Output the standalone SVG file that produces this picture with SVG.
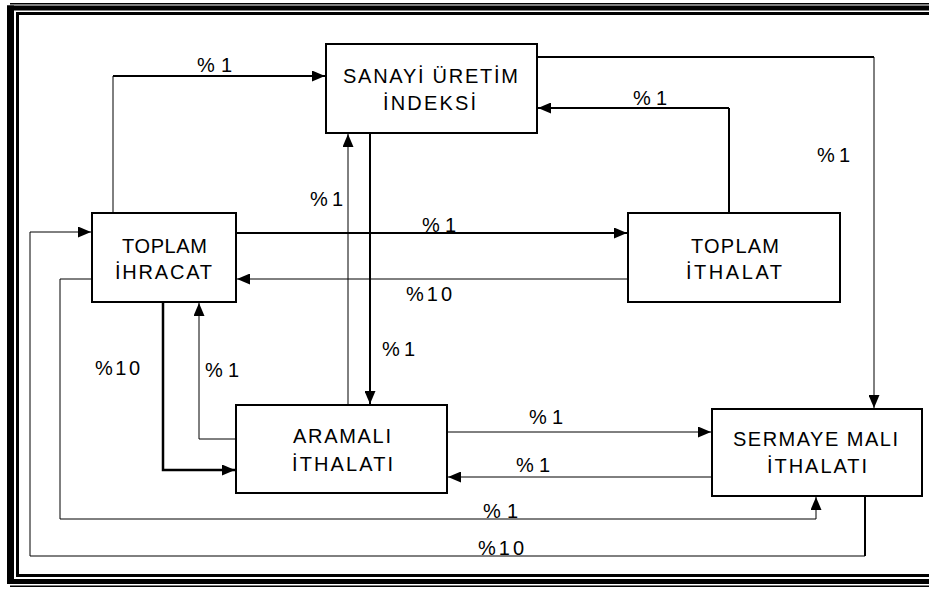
<svg xmlns="http://www.w3.org/2000/svg" width="929" height="589" viewBox="0 0 929 589">
<defs>
<style>
.box{fill:#fff;stroke:#000;stroke-width:2}
.t{font-family:"Liberation Sans",Arial,sans-serif;font-size:20px;fill:#000}
.lbl{font-family:"Liberation Sans",Arial,sans-serif;font-size:20px;fill:#000}
.c1{fill:none;stroke:#000;stroke-width:1}
.c2{fill:none;stroke:#000;stroke-width:2}
.c3{fill:none;stroke:#000;stroke-width:2.5}
.a{marker-end:url(#arr)}
</style>
<marker id="arr" viewBox="0 0 13 11" refX="13" refY="5.5" markerWidth="13" markerHeight="11" markerUnits="userSpaceOnUse" orient="auto">
<path d="M0,0 L13,5.5 L0,11 Z" fill="#000"/>
</marker>
</defs>
<rect width="929" height="589" fill="#fff"/>
<g id="frame" fill="#000">
<rect x="10" y="3" width="919" height="1.5"/>
<rect x="7" y="5.5" width="922" height="5"/>
<rect x="7" y="5.5" width="7" height="578.5"/>
<rect x="7" y="579" width="922" height="5"/>
<rect x="10" y="585.5" width="919" height="1.5"/>
<rect x="16" y="12" width="913" height="3"/>
<rect x="16" y="12" width="3" height="565"/>
<rect x="16" y="574" width="913" height="3"/>
</g>
<g id="connectors">
<path class="c1" d="M113,212 V76"/>
<path class="c2 a" d="M113,76 H325"/>
<path class="c2" d="M538,57 H874"/>
<path class="c1 a" d="M874,57 V408"/>
<path class="c2" d="M729,212 V108"/>
<path class="c2 a" d="M729,108 H538"/>
<path class="c2 a" d="M370,134 V404"/>
<path class="c1 a" d="M348,404 V134"/>
<path class="c2 a" d="M237,233 H627"/>
<path class="c1 a" d="M627,279 H237"/>
<path class="c3 a" d="M163,303 V470 H235"/>
<path class="c1 a" d="M235,439 H199 V303"/>
<path class="c1 a" d="M448,432 H711"/>
<path class="c1 a" d="M711,477 H448"/>
<path class="c1 a" d="M91,279 H60 V519 H816 V497"/>
<path class="c2" d="M865,497 V556"/>
<path class="c1 a" d="M865,556 H30 V232 H91"/>
</g>
<g id="labels">
<text class="lbl" x="197" y="72" textLength="35" lengthAdjust="spacing">%1</text>
<text class="lbl" x="817" y="162" textLength="33" lengthAdjust="spacing">%1</text>
<text class="lbl" x="633" y="105" textLength="34" lengthAdjust="spacing">%1</text>
<text class="lbl" x="382" y="356" textLength="33" lengthAdjust="spacing">%1</text>
<text class="lbl" x="310" y="206" textLength="33" lengthAdjust="spacing">%1</text>
<text class="lbl" x="422" y="232" textLength="34" lengthAdjust="spacing">%1</text>
<text class="lbl" x="406" y="301" textLength="46" lengthAdjust="spacing">%10</text>
<text class="lbl" x="95" y="375" textLength="45" lengthAdjust="spacing">%10</text>
<text class="lbl" x="205" y="377" textLength="34" lengthAdjust="spacing">%1</text>
<text class="lbl" x="529" y="424" textLength="34" lengthAdjust="spacing">%1</text>
<text class="lbl" x="516" y="472" textLength="34" lengthAdjust="spacing">%1</text>
<text class="lbl" x="483" y="518" textLength="35" lengthAdjust="spacing">%1</text>
<text class="lbl" x="478" y="555" textLength="46" lengthAdjust="spacing">%10</text>
</g>
<g id="sanayi">
<rect class="box" x="326" y="44" width="211" height="89"/>
<text class="t" x="343" y="83" textLength="175" lengthAdjust="spacing">SANAYİ ÜRETİM</text>
<text class="t" x="383" y="110" textLength="93" lengthAdjust="spacing">İNDEKSİ</text>
</g>
<g id="ihracat">
<rect class="box" x="92" y="213" width="144" height="89"/>
<text class="t" x="122" y="253" textLength="85" lengthAdjust="spacing">TOPLAM</text>
<text class="t" x="115" y="279" textLength="97" lengthAdjust="spacing">İHRACAT</text>
</g>
<g id="ithalat">
<rect class="box" x="628" y="213" width="212" height="89"/>
<text class="t" x="691" y="253" textLength="88" lengthAdjust="spacing">TOPLAM</text>
<text class="t" x="686" y="279" textLength="96" lengthAdjust="spacing">İTHALAT</text>
</g>
<g id="aramali">
<rect class="box" x="236" y="405" width="211" height="88"/>
<text class="t" x="293" y="443" textLength="98" lengthAdjust="spacing">ARAMALI</text>
<text class="t" x="292" y="471" textLength="101" lengthAdjust="spacing">İTHALATI</text>
</g>
<g id="sermaye">
<rect class="box" x="712" y="409" width="210" height="87"/>
<text class="t" x="733" y="446" textLength="165" lengthAdjust="spacing">SERMAYE MALI</text>
<text class="t" x="767" y="473" textLength="100" lengthAdjust="spacing">İTHALATI</text>
</g>
</svg>
